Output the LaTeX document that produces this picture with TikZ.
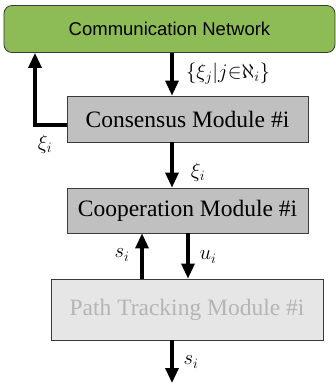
\documentclass[tikz,border=0pt]{standalone}
\usepackage{fontspec}
\setmainfont{Liberation Serif}
\newfontfamily\sansf{Liberation Sans}
\usetikzlibrary{arrows.meta}
\definecolor{netgreen}{HTML}{8DBB55}
\definecolor{modgray}{HTML}{C0C0C0}
\definecolor{lightmod}{HTML}{E6E6E6}
\definecolor{lighttext}{HTML}{B5B5B5}
\definecolor{edgegray}{HTML}{3A3A3A}
\tikzset{
  modbox/.style={draw=edgegray, line width=0.8pt, fill=modgray, inner sep=0pt,
    font=\fontsize{23.5}{25}\selectfont},
  arr/.style={line width=3.2pt, -{Triangle[width=13pt,length=15pt]}},
  lbl/.style={font=\fontsize{22}{24}\selectfont, inner sep=0pt}
}
\begin{document}
\begin{tikzpicture}[x=1pt,y=-1pt]
\useasboundingbox (0,0) rectangle (336,384);
\node[draw=edgegray, line width=0.8pt, fill=netgreen, rounded corners=8pt,
  minimum width=331pt, minimum height=47pt, inner sep=0pt,
  font=\sansf\fontsize{18.5}{20}\selectfont] (comm) at (169.5,29) {Communication Network};
\node[modbox, minimum width=241pt, minimum height=46pt] (cons) at (187.5,119) {Consensus Module \#i};
\node[modbox, minimum width=241pt, minimum height=45pt] (coop) at (187.5,210.5) {Cooperation Module \#i};
\node[modbox, fill=lightmod, text=lighttext, minimum width=272pt, minimum height=61pt] (path) at (187,309.5) {Path Tracking Module \#i};
\coordinate (xa) at (172,0);
\coordinate (loopx) at (35,125);
\coordinate (xup) at (142,0);
\coordinate (xdn) at (188,0);
\coordinate (outend) at (172,383);
% connectors
\draw[arr] (comm.south -| xa) -- (cons.north -| xa);
\draw[arr] (cons.west |- loopx) -- (loopx) -- (loopx |- comm.south);
\draw[arr] (cons.south -| xa) -- (coop.north -| xa);
\draw[arr] (path.north -| xup) -- (coop.south -| xup);
\draw[arr] (coop.south -| xdn) -- (path.north -| xdn);
\draw[arr] (path.south -| xa) -- (outend);
% labels
\node[lbl] (l1) at (228,74) {$\{\xi_j|j{\in}\aleph_i\}$};
\node[lbl] (l2) at (45,144) {$\xi_i$};
\node[lbl] (l3) at (198,172) {$\xi_i$};
\node[lbl] (l4) at (122,255) {$s_i$};
\node[lbl] (l5) at (208,257) {$u_i$};
\node[lbl] (l6) at (191,362) {$s_i$};
\end{tikzpicture}
\end{document}
